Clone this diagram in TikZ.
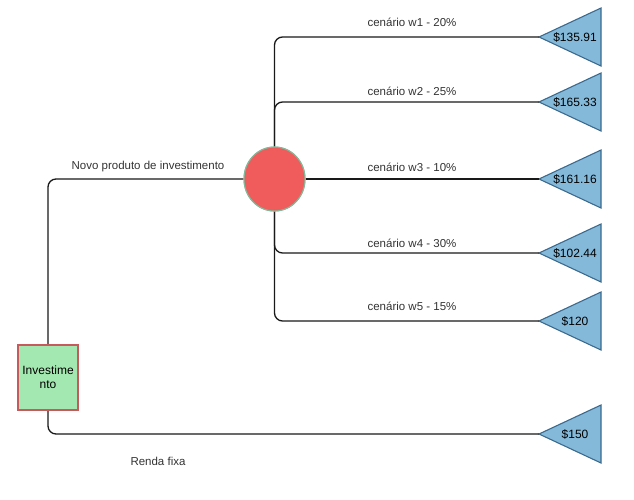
\documentclass[tikz,border=0pt]{standalone}
\usepackage{fontspec}
\setmainfont{Liberation Sans}
\usetikzlibrary{shapes.geometric}
\definecolor{sqfill}{HTML}{A4E8B1}
\definecolor{sqdraw}{HTML}{C75B5B}
\definecolor{cfill}{HTML}{F05B5B}
\definecolor{cdraw}{HTML}{82B99A}
\definecolor{tfill}{HTML}{84B9DA}
\definecolor{tdraw}{HTML}{3A6A8E}
\definecolor{lbl}{HTML}{333333}
\tikzset{
  conn/.style={line width=1.3pt, draw=black!90, rounded corners=8pt},
  tri/.style={fill=tfill, draw=tdraw, line width=1.1pt, line join=miter},
  val/.style={font=\fontsize{12}{14}\selectfont, inner sep=0pt, text=black},
  lab/.style={font=\fontsize{11.5}{13}\selectfont, inner sep=0pt, text=lbl},
  sq/.style={rectangle, fill=sqfill, draw=sqdraw, line width=1.3pt, minimum width=60pt, minimum height=65pt, inner sep=0pt, align=center, font=\fontsize{12}{14}\selectfont},
  circ/.style={ellipse, fill=cfill, draw=cdraw, line width=1.1pt, minimum width=61pt, minimum height=64pt, inner sep=0pt}
}
\begin{document}
\begin{tikzpicture}[x=1pt,y=-1pt]
\useasboundingbox (0,0) rectangle (634,499);
% leaves
\foreach \n/\yy/\v in {1/37/\$135.91, 2/102/\$165.33, 3/179/\$161.16, 4/253/\$102.44, 5/321/\$120, 6/434/\$150}{
  \coordinate (t\n) at (539,\yy);
  \draw[tri] (t\n) -- ++(62,-29) -- ++(0,58) -- cycle;
  \node[val] (v\n) at (575,\yy) {\v};
}
\node[sq] (sq) at (48,377.5) {Investime\\nto};
\node[circ] (c) at (274.5,179) {};
% connectors
\draw[conn] (sq.north) |- (c.west);
\draw[conn] (sq.south) |- (t6);
\draw[conn] (c.north) |- (t1);
\draw[conn] (c.north) |- (t2);
\draw[conn] (c.east) -- (t3);
\draw[conn] (c.south) |- (t4);
\draw[conn] (c.south) |- (t5);
% redraw shapes on top of lines
\node[sq] at (48,377.5) {Investime\\nto};
\node[circ] at (274.5,179) {};
% labels
\node[lab] (l0) at (148,167) {Novo produto de investimento};
\node[lab] (l6) at (158,461) {Renda fixa};
\node[lab] (l1) at (412,22) {cenário w1 - 20\%};
\node[lab] (l2) at (412,91) {cenário w2 - 25\%};
\node[lab] (l3) at (412,167) {cenário w3 - 10\%};
\node[lab] (l4) at (412,243) {cenário w4 - 30\%};
\node[lab] (l5) at (412,306) {cenário w5 - 15\%};
\end{tikzpicture}
\end{document}
